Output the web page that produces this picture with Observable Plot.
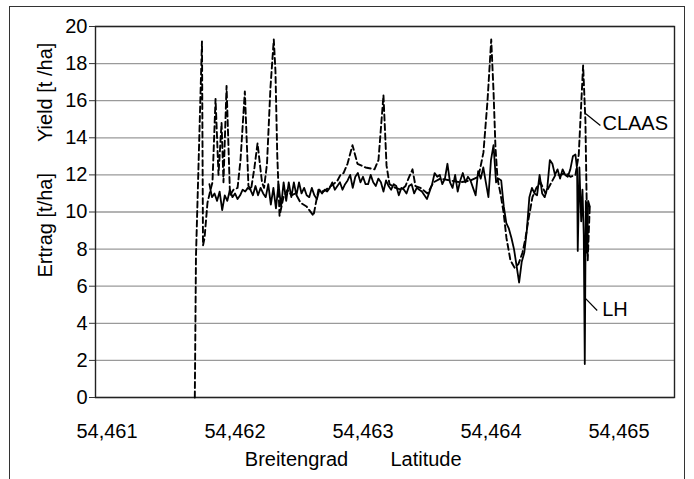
<!DOCTYPE html>
<html>
<head>
<meta charset="utf-8">
<script src="https://cdn.jsdelivr.net/npm/d3@7"></script>
<script src="https://cdn.jsdelivr.net/npm/@observablehq/plot@0.6"></script>
<style>
  html, body { margin: 0; padding: 0; background: #fff; }
  #wrap { position: relative; width: 694px; height: 479px; overflow: hidden; }
  #outer { position: absolute; left: 9px; top: 6px; width: 676px; height: 490px;
           border: 1.5px solid #333; border-bottom: none; box-sizing: border-box; }
  #chart { position: absolute; left: 0; top: 0; }
</style>
</head>
<body>
<div id="wrap"><div id="outer"></div><div id="chart"></div></div>
<script>
// LH (solid) yield trace: latitude and yield in t/ha
const lhLat = [
  54.46180,54.46182,54.46184,54.46186,54.46188,54.46190,54.46192,54.46194,54.46196,54.46198,
  54.46200,54.46202,54.46204,54.46206,54.46208,54.46210,54.46212,54.46214,54.46216,54.46218,
  54.46220,54.46222,54.46224,54.46226,54.46228,54.46230,54.46232,54.46234,54.46236,54.46238,
  54.46240,54.46242,54.46244,54.46246,54.46248,54.46250,54.46252,54.46254,54.46256,54.46258,
  54.46260,54.46262,54.46264,54.46266,54.46268,54.46270,54.46272,54.46274,54.46276,54.46278,
  54.46280,54.46282,54.46284,54.46286,54.46288,54.46290,54.46292,54.46294,54.46296,54.46298,
  54.46300,54.46302,54.46304,54.46306,54.46308,54.46310,54.46312,54.46314,54.46316,54.46318,
  54.46320,54.46322,54.46324,54.46326,54.46328,54.46330,54.46332,54.46334,54.46336,54.46338,
  54.46340,54.46342,54.46344,54.46346,54.46348,54.46350,54.46352,54.46354,54.46356,54.46358,
  54.46360,54.46362,54.46364,54.46366,54.46368,54.46370,54.46372,54.46374,54.46376,54.46378,
  54.46380,54.46382,54.46384,54.46386,54.46388,54.46390,54.46392,54.46394,54.46396,54.46398,
  54.46400,54.46402,54.46404,54.46406,54.46408,54.46410,54.46412,54.46414,54.46416,54.46418,
  54.46420,54.46422,54.46424,54.46426,54.46428,54.46430,54.46432,54.46434,54.46436,54.46438,
  54.46440,54.46442,54.46444,54.46446,54.46448,54.46450,54.46452,54.46454,54.46456,54.46458,
  54.46460,54.46462,54.46464,54.46466,
  54.464673,54.464678,54.464691,54.464705,54.464715,54.464725,54.464733,54.464741,54.464752,54.464759,54.464772
];
const lhYield = [
  11.5,10.8,11.0,10.6,11.1,10.1,10.9,10.6,11.2,10.8,
  11.0,10.7,10.9,11.2,11.1,11.3,11.2,10.9,11.4,10.9,
  11.3,11.0,10.8,11.5,10.4,11.3,10.2,11.5,10.3,11.6,
  10.6,11.6,10.8,11.6,10.9,11.6,11.0,11.3,10.9,10.8,
  11.3,10.9,10.7,11.2,11.0,11.2,11.1,11.3,11.6,11.2,
  11.4,11.6,11.2,11.5,11.7,12.0,11.3,11.9,12.1,11.6,
  11.9,11.5,11.5,12.0,11.6,11.4,11.8,11.6,11.1,11.7,
  11.4,11.2,11.5,11.4,10.9,11.3,11.2,11.0,11.4,11.5,
  11.0,11.3,11.2,11.1,10.9,10.7,11.1,11.5,12.1,11.9,
  12.0,11.5,11.8,12.6,11.6,11.3,12.0,11.1,11.7,12.1,
  11.6,11.9,11.7,11.3,10.9,12.2,11.8,12.4,11.6,10.8,
  12.8,13.6,11.6,11.8,11.7,10.3,9.4,9.1,8.6,8.0,
  7.1,6.2,7.3,7.8,9.0,10.8,11.3,11.0,10.9,12.0,
  11.0,10.8,11.3,12.8,12.6,12.0,12.3,11.8,12.3,12.0,
  11.9,12.3,13.0,13.1,
  12.3,7.9,12.4,9.5,11.2,8.8,1.8,10.6,7.8,10.6,10.3
];

// CLAAS (dashed) yield trace
const claasLat = [
  54.461686,54.461695,54.461742,54.461750,54.461762,54.461785,54.461809,54.461824,54.461848,54.461871,
  54.461895,54.461910,54.461934,54.461961,54.461988,54.462020,54.462043,54.462077,54.462105,54.462125,
  54.462152,54.462176,54.462211,54.462227,54.462250,54.462277,54.462303,54.462316,54.462330,54.462348,
  54.462379,54.462410,54.462441,54.462473,54.462512,54.462559,54.462613,54.462652,54.462691,54.462730,
  54.462770,54.462801,54.462824,54.462848,54.462879,54.462918,54.462957,54.463020,54.463090,54.463121,
  54.463160,54.463184,54.463207,54.463254,54.463301,54.463332,54.463355,54.463387,54.463410,54.463449,
  54.463504,54.463551,54.463605,54.463684,54.463762,54.463840,54.463902,54.463941,54.463973,54.464002,
  54.464020,54.464035,54.464051,54.464074,54.464098,54.464121,54.464152,54.464184,54.464215,54.464246,
  54.464270,54.464293,54.464324,54.464355,54.464387,54.464426,54.464465,54.464504,54.464543,54.464582,
  54.464621,54.464660,54.464686,54.464705,54.464720,54.464738,54.464746,54.464756,54.464772
];
const claasYield = [
  0,7.6,19.2,8.2,8.6,10.5,11.2,11.6,16.1,12.0,
  14.8,11.6,16.8,10.9,11.2,11.3,12.8,16.5,11.4,11.2,
  12.4,13.7,11.6,11.3,12.6,16.7,19.3,17.6,13.1,9.8,
  10.8,11.2,10.9,11.0,10.5,10.3,9.8,11.2,11.1,11.3,
  11.5,11.7,12.0,12.1,12.6,13.6,12.6,12.4,12.3,12.8,
  16.3,12.5,11.5,11.3,11.2,11.4,11.8,12.3,11.4,11.3,
  11.0,11.6,11.8,11.7,11.6,11.7,11.9,13.2,16.0,19.3,
  16.5,13.5,11.8,11.0,10.0,8.6,7.4,7.0,7.2,7.8,
  8.6,9.6,10.8,11.3,11.6,11.0,11.5,12.0,12.0,12.1,
  11.9,12.0,13.1,15.8,17.9,14.9,11.3,7.4,10.3
];

// axes
const yTicks = [0,2,4,6,8,10,12,14,16,18,20];
const xTicks = [54.461,54.462,54.463,54.464,54.465];

// series labels with leader lines
const labelNames = ["CLAAS", "LH"];
const labelLat = [54.464871, 54.464869];
const labelY = [14.77, 4.72];
const leaderLat1 = [54.464738, 54.464738];
const leaderY1 = [15.31, 5.34];
const leaderLat2 = [54.464855, 54.464830];
const leaderY2 = [14.66, 4.69];

const lh = lhLat.map((x, i) => ({x, y: lhYield[i]}));
const claas = claasLat.map((x, i) => ({x, y: claasYield[i]}));
const labels = labelNames.map((name, i) => ({
  name, x: labelLat[i], y: labelY[i],
  x1: leaderLat1[i], y1: leaderY1[i], x2: leaderLat2[i], y2: leaderY2[i]
}));

const FONT = "'Liberation Sans', Arial, Helvetica, sans-serif";

const chart = Plot.plot({
  width: 694,
  height: 479,
  marginLeft: 95,
  marginRight: 20,
  marginTop: 26,
  marginBottom: 82,
  style: {fontFamily: FONT, fontSize: "20px", color: "#000", background: "transparent", overflow: "visible"},
  x: {domain: [54.46091, 54.465434]},
  y: {domain: [0, 20]},
  marks: [
    Plot.gridY(yTicks, {stroke: "#9a9a9a", strokeOpacity: 1, strokeWidth: 1.3}),
    Plot.frame({stroke: "#222", strokeWidth: 1.4}),
    Plot.line(claas, {x: "x", y: "y", stroke: "#000", strokeWidth: 1.9, strokeDasharray: "6,3.5", curve: "linear"}),
    Plot.line(lh, {x: "x", y: "y", stroke: "#000", strokeWidth: 1.8, curve: "linear"}),
    Plot.axisY(yTicks, {anchor: "left", tickSize: 6, tickPadding: 2, fontSize: 20, label: null, stroke: "#333"}),
    Plot.axisX(xTicks, {anchor: "bottom", tickSize: 0, tickPadding: 26, fontSize: 20, label: null,
      tickFormat: d => d.toFixed(3).replace(".", ",")}),
    Plot.text(["Yield [t /ha]"], {frameAnchor: "left", rotate: -90, dx: -50, dy: -70, fontSize: 20, fill: "#000"}),
    Plot.text(["Ertrag [t/ha]"], {frameAnchor: "left", rotate: -90, dx: -50, dy: 65.5, fontSize: 20, fill: "#000"}),
    Plot.text(["Breitengrad"], {frameAnchor: "bottom", dx: -88.5, dy: 68.5, fontSize: 20, fill: "#000"}),
    Plot.text(["Latitude"], {frameAnchor: "bottom", dx: 41, dy: 68.5, fontSize: 20, fill: "#000"}),
    Plot.link(labels, {x1: "x1", y1: "y1", x2: "x2", y2: "y2", stroke: "#000", strokeWidth: 1.2}),
    Plot.text(labels, {x: "x", y: "y", text: "name", textAnchor: "start", fontSize: 20, fill: "#000"})
  ]
});
document.getElementById("chart").appendChild(chart);
</script>
</body>
</html>
